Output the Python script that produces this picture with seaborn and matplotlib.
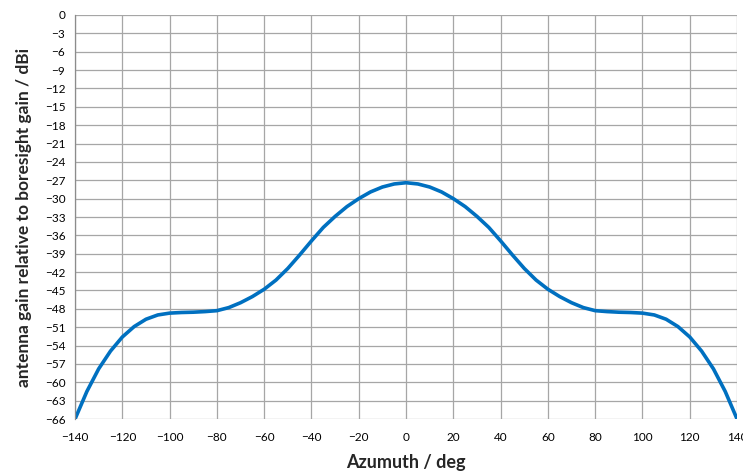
import numpy as np
import pandas as pd
import seaborn as sns
import matplotlib.pyplot as plt

# azimuth (deg) and gain relative to boresight (dBi)
azimuth = [-140, -135, -130, -125, -120, -115, -110, -105, -100, -95, -90, -85,
           -80, -75, -70, -65, -60, -55, -50, -45, -40, -35, -30, -25, -20,
           -15, -10, -5, 0, 5, 10, 15, 20, 25, 30, 35, 40, 45, 50, 55, 60,
           65, 70, 75, 80, 85, 90, 95, 100, 105, 110, 115, 120, 125, 130,
           135, 140]
gain = [-66.0, -61.5, -57.8, -54.9, -52.6, -50.9, -49.7, -49.0, -48.7, -48.6,
        -48.55, -48.45, -48.3, -47.8, -47.0, -46.0, -44.8, -43.3, -41.4, -39.2,
        -36.9, -34.7, -32.9, -31.3, -30.0, -28.9, -28.1, -27.6, -27.4, -27.6,
        -28.1, -28.9, -30.0, -31.3, -32.9, -34.7, -36.9, -39.2, -41.4, -43.3,
        -44.8, -46.0, -47.0, -47.8, -48.3, -48.45, -48.55, -48.6, -48.7, -49.0,
        -49.7, -50.9, -52.6, -54.9, -57.8, -61.5, -66.0]

x_ticks = list(range(-140, 141, 20))
y_ticks = list(range(-66, 1, 3))

df = pd.DataFrame({"azimuth": azimuth, "gain": gain})

sns.set_style("white")
plt.rcParams['font.family'] = ['Lato', 'DejaVu Sans']

fig = plt.figure(figsize=(7.43, 4.76), dpi=100)
ax = fig.add_axes([0.101, 0.1197, 0.891, 0.8488])

sns.lineplot(data=df, x="azimuth", y="gain", ax=ax, color="#0070C0", linewidth=2.6)

ax.set_xlim(-140, 140)
ax.set_ylim(-66, 0)
ax.set_xticks(x_ticks)
ax.set_yticks(y_ticks)
ax.tick_params(axis="both", labelsize=8.5, colors="#7f7f7f", length=4, width=0.8,
               labelcolor="black", direction="out", pad=3)
ax.tick_params(axis="x", pad=5)
ax.grid(True, color="#a6a6a6", linewidth=0.9)
for side in ["top", "right", "bottom"]:
    ax.spines[side].set_visible(False)
ax.spines["left"].set_color("#8c8c8c")
ax.spines["left"].set_linewidth(0.9)

ax.set_xlabel("Azumuth / deg", fontsize=13, fontweight="bold", labelpad=8)
ax.set_ylabel("antenna gain relative to boresight gain / dBi", fontsize=12.5,
              fontweight="bold", labelpad=9)

fig.savefig("out.png", dpi=100)
